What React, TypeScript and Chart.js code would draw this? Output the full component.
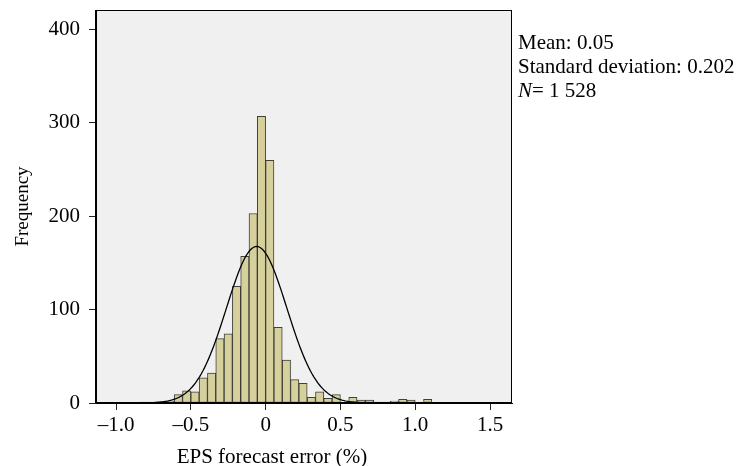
import React, { useEffect, useRef } from "react";
import { Chart, registerables } from "chart.js";

Chart.register(...registerables);

// ---- data ----
const BIN_WIDTH = 1 / 18;
const FIRST_BIN_START = -15 / 18;
const COUNTS = [
  1, 1, 1, 2, 9, 13, 12, 27, 32, 69, 74, 125, 157, 203, 307, 260, 81, 46, 25,
  21, 6, 12, 5, 9, 0, 6, 3, 3, 1, 1, 2, 4, 3, 0, 4,
];
const X_TICKS = [-1, -0.5, 0, 0.5, 1, 1.5];
const X_TICK_LABELS = ["\u20131.0", "\u20130.5", "0", "0.5", "1.0", "1.5"];
const Y_TICKS = [0, 100, 200, 300, 400];
const X_TITLE = "EPS forecast error (%)";
const Y_TITLE = "Frequency";
const STAT_MEAN_TEXT = "Mean: 0.05";
const STAT_SD_TEXT = "Standard deviation: 0.202";
const STAT_N_LABEL = "N";
const STAT_N_TEXT = "= 1 528";
// fitted normal curve parameters (centre)
const CURVE_MEAN = -0.06;
const CURVE_SD = 0.202;
const CURVE_N = 1528;
const X_MIN = -1.134;
const X_MAX = 1.647;
const Y_MAX = 421;

const FONT = "'Liberation Serif', 'Times New Roman', serif";

const barPoints = COUNTS.map((c, i) => ({
  x: FIRST_BIN_START + (i + 0.5) * BIN_WIDTH,
  y: c,
}));

const curvePoints: { x: number; y: number }[] = [];
for (let x = -1.13; x <= 1.65; x += 0.01) {
  const z = (x - CURVE_MEAN) / CURVE_SD;
  curvePoints.push({
    x,
    y: ((CURVE_N * BIN_WIDTH) / (CURVE_SD * Math.sqrt(2 * Math.PI))) * Math.exp(-0.5 * z * z),
  });
}

const framePlugin = {
  id: "frame",
  beforeDraw(chart: any) {
    const { ctx, chartArea: a } = chart;
    ctx.save();
    ctx.fillStyle = "#f0f0f0";
    ctx.fillRect(a.left, a.top, a.right - a.left, a.bottom - a.top);
    ctx.restore();
  },
  afterDraw(chart: any) {
    const { ctx, chartArea: a } = chart;
    ctx.save();
    ctx.strokeStyle = "#000";
    ctx.lineWidth = 1;
    ctx.strokeRect(a.left - 0.5, a.top + 0.5, a.right - a.left, a.bottom - a.top - 1);
    ctx.fillStyle = "#000";
    ctx.textBaseline = "alphabetic";
    ctx.textAlign = "left";
    ctx.font = `21px ${FONT}`;
    ctx.fillText(STAT_MEAN_TEXT, 518, 49);
    ctx.fillText(STAT_SD_TEXT, 518, 73);
    ctx.font = `italic 21px ${FONT}`;
    ctx.fillText(STAT_N_LABEL, 518, 97);
    const nw = ctx.measureText(STAT_N_LABEL).width;
    ctx.font = `21px ${FONT}`;
    ctx.fillText(STAT_N_TEXT, 518 + nw, 97);
    ctx.textAlign = "center";
    ctx.fillText(X_TITLE, 272, 463);
    ctx.restore();
  },
};

export default function App() {
  const ref = useRef<HTMLCanvasElement>(null);
  useEffect(() => {
    if (!ref.current) return;
    const chart = new Chart(ref.current, {
      type: "bar",
      data: {
        datasets: [
          {
            type: "line",
            data: curvePoints,
            borderColor: "#000",
            borderWidth: 1.3,
            pointRadius: 0,
            fill: false,
            order: 0,
          } as any,
          {
            type: "bar",
            data: barPoints,
            backgroundColor: "#d5d09c",
            borderColor: "rgba(45,45,40,0.9)",
            borderWidth: 1,
            borderSkipped: false,
            barPercentage: 1,
            categoryPercentage: 1,
            order: 1,
          } as any,
        ],
      },
      plugins: [framePlugin],
      options: {
        responsive: false,
        animation: false,
        layout: { padding: { top: 10, right: 229, bottom: 0, left: 0 } },
        plugins: {
          legend: { display: false },
          tooltip: { enabled: false },
        },
        scales: {
          x: {
            type: "linear",
            min: X_MIN,
            max: X_MAX,
            offset: false,
            afterBuildTicks: (axis: any) => {
              axis.ticks = X_TICKS.map((v) => ({ value: v }));
            },
            afterFit: (axis: any) => {
              axis.height = 63;
              axis.paddingLeft = 0;
              axis.paddingRight = 0;
            },
            ticks: {
              callback: (v: any) => {
                const i = X_TICKS.findIndex((t) => Math.abs(t - Number(v)) < 1e-9);
                return i >= 0 ? X_TICK_LABELS[i] : "";
              },
              font: { family: FONT, size: 21, lineHeight: 1.2 },
              color: "#000",
              padding: 3,
              maxRotation: 0,
              autoSkip: false,
            },
            grid: {
              offset: false,
              drawOnChartArea: false,
              drawTicks: true,
              tickLength: 7,
              color: "#222",
            },
            border: { display: true, color: "#000" },
            title: { display: false },
          },
          y: {
            type: "linear",
            min: 0,
            max: Y_MAX,
            afterBuildTicks: (axis: any) => {
              axis.ticks = Y_TICKS.map((v) => ({ value: v }));
            },
            afterFit: (axis: any) => {
              axis.width = 96;
              axis.paddingTop = 0;
              axis.paddingBottom = 0;
            },
            ticks: {
              font: { family: FONT, size: 21, lineHeight: 1.2 },
              color: "#000",
              padding: 9,
            },
            grid: {
              drawOnChartArea: false,
              drawTicks: true,
              tickLength: 7,
              color: "#222",
            },
            border: { display: true, color: "#000" },
            title: {
              display: true,
              text: Y_TITLE,
              font: { family: FONT, size: 19, lineHeight: 1.2 },
              color: "#000",
              padding: { top: 12, bottom: 0 },
            },
          },
        },
      },
    });
    return () => chart.destroy();
  }, []);
  return (
    <div style={{ position: "fixed", left: 0, top: 0, width: 741, height: 466, background: "#fff" }}>
      <canvas ref={ref} width={741} height={466} style={{ width: 741, height: 466, display: "block" }} />
    </div>
  );
}
